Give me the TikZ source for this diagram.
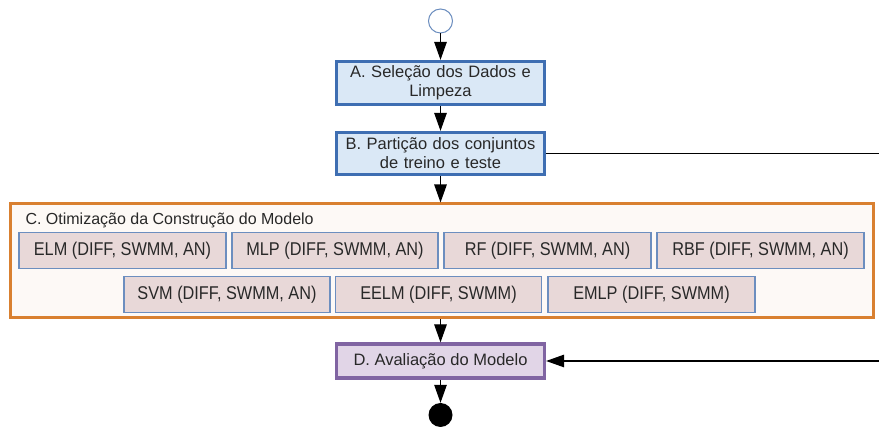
\documentclass[tikz,border=0pt]{standalone}
\usepackage{fontspec}
\setmainfont{Liberation Sans}
\newfontfamily\innerfont[FakeStretch=0.88]{Liberation Sans}
\usetikzlibrary{arrows.meta,positioning}
\definecolor{txt}{RGB}{40,40,40}
\definecolor{bluefill}{RGB}{218,232,246}
\definecolor{blueline}{RGB}{62,110,178}
\definecolor{thinblue}{RGB}{108,142,191}
\definecolor{orangeline}{RGB}{217,128,48}
\definecolor{orangefill}{RGB}{253,249,246}
\definecolor{pinkfill}{RGB}{232,216,216}
\definecolor{purpleline}{RGB}{128,100,162}
\definecolor{purplefill}{RGB}{225,213,231}
\tikzset{
  x=1pt, y=-1pt,
  every node/.style={text=txt, font=\fontsize{16.5}{19}\selectfont},
  stepbox/.style={draw=blueline, fill=bluefill, line width=3.2pt, minimum width=208pt, minimum height=43pt, inner sep=0pt, align=center, text width=200pt},
  evalbox/.style={draw=purpleline, fill=purplefill, line width=3.2pt, minimum width=208pt, minimum height=34pt, inner sep=0pt, align=center},
  groupbox/.style={draw=orangeline, fill=orangefill, line width=3pt},
  modelbox/.style={draw=thinblue, fill=pinkfill, line width=1.4pt, inner sep=0pt, minimum height=36.5pt, font=\innerfont\fontsize{18.5}{20}\selectfont},
  flow/.style={draw=black, line width=1.2pt, -{Triangle[length=18pt,width=12.5pt]}},
  plainline/.style={draw=black, line width=1.1pt}
}
\begin{document}
\begin{tikzpicture}
\useasboundingbox (0,0) rectangle (879,427);
% start / end
\node[circle, draw=thinblue, fill=white, line width=1pt, minimum size=24pt, inner sep=0pt] (start) at (440.5,21) {};
\node[circle, fill=black, minimum size=24pt, inner sep=0pt] (end) at (440.5,415) {};
% steps
\node[stepbox] (A) at (440.5,83) {A. Seleção dos Dados e\\Limpeza};
\node[stepbox, minimum height=42pt] (B) at (440.5,153.5) {B. Partição dos conjuntos\\de treino e teste};
% group C
\node[groupbox, minimum width=863pt, minimum height=114pt, inner sep=0pt] (C) at (441.5,261) {};
\node[anchor=base west, font=\fontsize{16}{18}\selectfont] (Ctitle) at (22,225) {C. Otimização da Construção do Modelo};
% model boxes
\node[modelbox, minimum width=207pt] (elm) at (122.5,250.5) {ELM (DIFF, SWMM, AN)};
\node[modelbox, minimum width=206pt] (mlp) at (335,250.5) {MLP (DIFF, SWMM, AN)};
\node[modelbox, minimum width=207pt] (rf) at (547.5,250.5) {RF (DIFF, SWMM, AN)};
\node[modelbox, minimum width=207pt] (rbf) at (760.5,250.5) {RBF (DIFF, SWMM, AN)};
\node[modelbox, minimum width=206pt] (svm) at (227,294.5) {SVM (DIFF, SWMM, AN)};
\node[modelbox, minimum width=206pt] (eelm) at (438.5,294.5) {EELM (DIFF, SWMM)};
\node[modelbox, minimum width=207pt] (emlp) at (651.5,294.5) {EMLP (DIFF, SWMM)};
% D
\node[evalbox] (D) at (440.5,361) {D. Avaliação do Modelo};
% side coordinates
\coordinate (Bout) at (879,153.5);
\coordinate (Din) at (879,361);
% connectors
\draw[flow] (start) -- (A);
\draw[flow] (A) -- (B);
\draw[flow] (B) -- (C.north -| B);
\draw[flow] (C.south -| D) -- (D);
\draw[flow] (D) -- (end);
\draw[plainline] (B.east) -- (Bout);
\draw[flow] (Din) -- (D.east);
\end{tikzpicture}
\end{document}
